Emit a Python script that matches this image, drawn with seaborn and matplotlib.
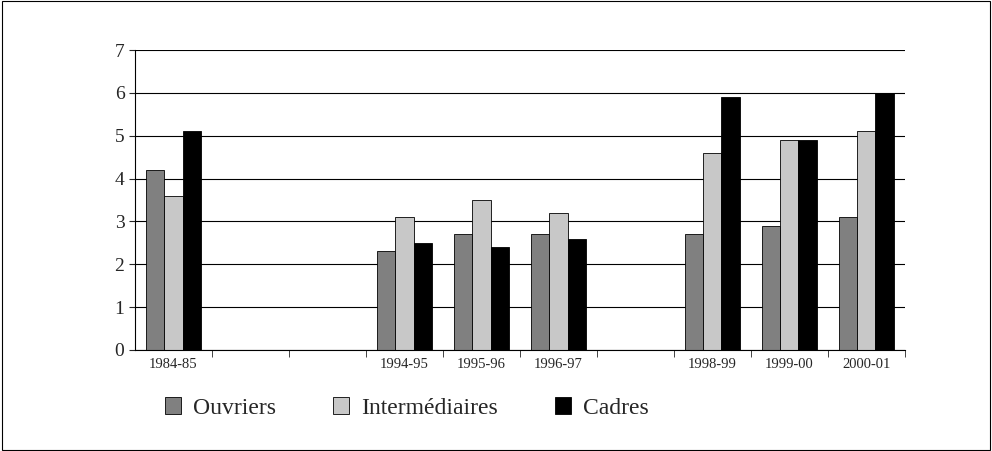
import numpy as np
import pandas as pd
import matplotlib.pyplot as plt
import seaborn as sns
from matplotlib.patches import Rectangle

# data
periods = ["1984-85", "", " ", "1994-95", "1995-96", "1996-97", "  ", "1998-99", "1999-00", "2000-01"]
ouvriers = [4.2, np.nan, np.nan, 2.3, 2.7, 2.7, np.nan, 2.7, 2.9, 3.1]
intermediaires = [3.6, np.nan, np.nan, 3.1, 3.5, 3.2, np.nan, 4.6, 4.9, 5.1]
cadres = [5.1, np.nan, np.nan, 2.5, 2.4, 2.6, np.nan, 5.9, 4.9, 6.0]
series = ["Ouvriers", "Intermédiaires", "Cadres"]
colors = ["#808080", "#c8c8c8", "#000000"]

df = pd.DataFrame({"periode": periods * 3,
                   "groupe": np.repeat(series, len(periods)),
                   "valeur": ouvriers + intermediaires + cadres})

sns.set_style("white")
plt.rcParams["font.family"] = ["Liberation Serif", "DejaVu Serif"]

fig = plt.figure(figsize=(9.92, 4.51), dpi=100)
ax = fig.add_axes([0.136, 0.224, 0.776, 0.665])
sns.barplot(data=df, x="periode", y="valeur", hue="groupe", palette=colors,
            edgecolor="black", linewidth=0.6, width=0.72, ax=ax, legend=False)

ax.set_ylim(0, 7)
ax.set_xlim(-0.5, len(periods) - 0.5)
ax.set_yticks(range(8))
ax.tick_params(axis="y", labelsize=14, length=4, direction="out", left=True)
ax.set_xticks(np.arange(len(periods)) + 0.5, minor=True)
ax.tick_params(axis="x", which="major", length=0, labelsize=10.5, pad=6)
ax.tick_params(axis="x", which="minor", length=5, direction="out", bottom=True)
ax.yaxis.grid(True, color="black", linewidth=0.8)
ax.set_axisbelow(True)
ax.set_xlabel("")
ax.set_ylabel("")
for s in ["top", "right"]:
    ax.spines[s].set_visible(False)
ax.spines["left"].set_color("black")
ax.spines["bottom"].set_color("black")

handles = [Rectangle((0, 0), 1, 1, facecolor=c, edgecolor="black", linewidth=0.6) for c in colors]
fig.legend(handles, series, loc="center", bbox_to_anchor=(0.41, 0.095), ncol=3,
           frameon=False, fontsize=17, handlelength=0.7, handleheight=0.7,
           columnspacing=2.4, handletextpad=0.5)

fig.patches.append(Rectangle((0.002, 0.002), 0.996, 0.996, transform=fig.transFigure,
                             fill=False, edgecolor="black", linewidth=0.8))
fig.savefig("out.png", dpi=100)
